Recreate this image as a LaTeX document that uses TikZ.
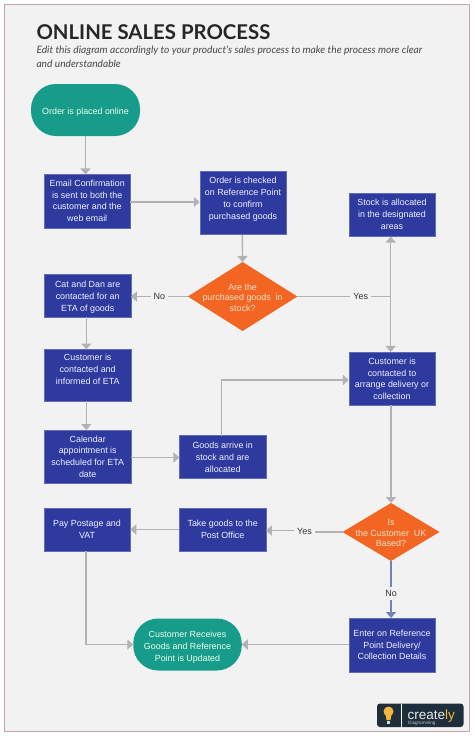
\documentclass[tikz,border=0pt]{standalone}
\usepackage{fontspec}
\setmainfont{Liberation Sans}
\newfontfamily\latofont{Lato}
\usetikzlibrary{arrows.meta,shapes.geometric}
\definecolor{pagebg}{HTML}{F2F2F3}
\definecolor{framecol}{HTML}{C9A3AB}
\definecolor{boxblue}{HTML}{2E3A9E}
\definecolor{tealfill}{HTML}{179C8C}
\definecolor{orangefill}{HTML}{F26522}
\definecolor{linegray}{HTML}{B2B2B4}
\definecolor{noblue}{HTML}{6D86B8}
\definecolor{logodark}{HTML}{1F2E3B}
\definecolor{logoyellow}{HTML}{F4B63F}
% text lowered by #1 px from the centre of its node
\newcommand\nudged[2]{\raisebox{\dimexpr-2.2pt-#1pt\relax}[0pt][0pt]{\begin{tabular}[c]{@{}c@{}}#2\end{tabular}}}
\tikzset{
  x=1pt,y=-1pt,
  base/.style={inner sep=0pt,outer sep=0pt,font=\fontsize{8.9}{11.85}\selectfont},
  procbox/.style={base,fill=boxblue,draw=boxblue!75!white,line width=0.5pt,text=blue!6!white},
  terminal/.style={base,fill=tealfill,rounded corners=25pt,text=green!8!white},
  decision/.style={shape=diamond,inner sep=0pt,outer sep=0pt,fill=orangefill},
  dectext/.style={inner sep=0pt,outer sep=0pt,align=center,font=\fontsize{8.9}{10.6}\selectfont,text=orange!22!white},
  flow/.style={draw=linegray,line width=1.4pt},
  flowarrow/.style={flow,-{Triangle[width=10pt,length=6pt]}},
  lab/.style={inner sep=3pt,outer sep=0pt,text=black!80,font=\fontsize{9}{11}\selectfont},
}
\begin{document}
\begin{tikzpicture}
\useasboundingbox (0,0) rectangle (474,736);
\fill[white] (0,0) rectangle (474,736);
\draw[fill=pagebg,draw=framecol,line width=1pt] (4,4) rectangle (469.5,731);

\node[anchor=base west,inner sep=0pt,text=black!85] (title) at (36.3,39) {\latofont\bfseries\fontsize{20.35}{24}\selectfont ONLINE SALES PROCESS};
\node[anchor=north west,inner sep=0pt,text=black!72,align=left,font=\latofont\itshape\fontsize{10.2}{13.3}\selectfont] (sub) at (36.3,46) {Edit this diagram accordingly to your product's sales process to make the process more clear\\and understandable};

\node[terminal,minimum width=109pt,minimum height=52pt] (start) at (85.5,110) {\nudged{2}{Order is placed online}};
\node[procbox,minimum width=86.5pt,minimum height=53.5pt] (email) at (87.2,201.2) {\nudged{0.5}{Email Confirmation\\is sent to both the\\customer and the\\web email}};
\node[procbox,minimum width=86.5pt,minimum height=63pt] (order) at (243,203.2) {\nudged{-4}{Order is checked\\on Reference Point\\to confirm\\purchased goods}};
\node[procbox,minimum width=86.5pt,minimum height=43pt] (stock) at (392,215) {\nudged{0.5}{Stock is allocated\\in the designated\\areas}};
\node[procbox,minimum width=86.5pt,minimum height=43pt] (cat) at (87.7,295.5) {\nudged{1.5}{Cat and Dan are\\contacted for an\\ETA of goods}};
\node[procbox,minimum width=86.5pt,minimum height=51.5pt] (informed) at (87.7,375.2) {\nudged{-5}{Customer is\\contacted and\\informed of ETA}};
\node[procbox,minimum width=86.5pt,minimum height=53pt] (calendar) at (87.7,456.5) {\nudged{1}{Calendar\\appointment is\\scheduled for ETA\\date}};
\node[procbox,minimum width=86.5pt,minimum height=43pt] (goods) at (222.7,457) {\nudged{1.3}{Goods arrive in\\stock and are\\allocated}};
\node[procbox,minimum width=86.5pt,minimum height=53.5pt] (arrange) at (392,378.7) {\nudged{1}{Customer is\\contacted to\\arrange delivery or\\collection}};
\node[procbox,minimum width=86.5pt,minimum height=43pt] (pay) at (87,529.5) {\nudged{1}{Pay Postage and\\VAT}};
\node[procbox,minimum width=86.5pt,minimum height=43pt] (take) at (222.7,529.5) {\nudged{1}{Take goods to the\\Post Office}};
\node[procbox,minimum width=86.5pt,minimum height=54pt] (enter) at (392,645) {\nudged{0.7}{Enter on Reference\\Point Delivery/\\Collection Details}};
\node[terminal,minimum width=108.5pt,minimum height=52pt] (finish) at (187.5,644.5) {\nudged{2.5}{Customer Receives\\Goods and Reference\\Point is Updated}};

\node[decision,minimum width=109.5pt,minimum height=69pt,aspect=1.587] (d1) at (242.6,296.5) {};
\node[dectext] (d1text) at (242.6,297.5) {Are the\\purchased goods\ \ in\\stock?};
\node[decision,minimum width=97pt,minimum height=58pt,aspect=1.672] (d2) at (391,532) {};
\node[dectext] (d2text) at (391,533) {Is\\the Customer\ \ UK\\Based?};

\node[lab] (no1) at (159.5,296) {No};
\node[lab] (yes1) at (360.7,296) {Yes};
\node[lab] (yes2) at (304.5,531) {Yes};
\node[lab] (no2) at (391,593.5) {No};
\coordinate (junction) at (390.7,296.5);
\coordinate (goodsup) at (221.5,435.5);
\coordinate (arrangein) at (348.8,380);
\coordinate (payout) at (86,551);
\coordinate (orderout) at (242.3,235);
\coordinate (catout) at (86.3,317);
\coordinate (informedin) at (86.3,349.5);
\coordinate (informedout) at (86.3,401);
\coordinate (calendarin) at (86.3,430);

\draw[flowarrow] (start.south) -- (start.south |- email.north);
\draw[flowarrow] (email.east |- 0,202) -- (order.west |- 0,202);
\draw[flowarrow] (orderout) -- (d1.north);
\draw[flow] (d1.west) -- (d1.west -| no1.east);
\draw[flowarrow] (no1.west |- d1.west) -- (cat.east |- d1.west);
\draw[flow] (d1.east) -- (d1.east -| yes1.west);
\draw[flow] (yes1.east |- d1.east) -- (junction);
\draw[flowarrow] (junction) -- (junction |- stock.south);
\draw[flowarrow] (junction) -- (junction |- arrange.north);
\draw[flowarrow] (catout) -- (informedin);
\draw[flowarrow] (informedout) -- (calendarin);
\draw[flowarrow] (calendar.east |- 0,457.5) -- (goods.west |- 0,457.5);
\draw[flowarrow] (goodsup) -- (goodsup |- arrangein) -- (arrangein);
\draw[flowarrow] (d2.north |- arrange.south) -- (d2.north);
\draw[flow] (d2.west) -- (d2.west -| yes2.east);
\draw[flowarrow] (yes2.west |- 0,530.5) -- (take.east |- 0,530.5);
\draw[flowarrow] (take.west) -- (pay.east);
\draw[flowarrow] (payout) -- (payout |- finish.west) -- (finish.west);
\draw[flowarrow] (enter.west |- finish.east) -- (finish.east);
\draw[flow,draw=noblue] (d2.south) -- (no2.north);
\draw[flowarrow,draw=noblue] (no2.south) -- (no2.south |- enter.north);

% logo
\fill[logodark,rounded corners=3pt] (377,703.5) rectangle (463.5,727);
\draw[white,line width=0.6pt] (401,703.5) -- (401,727);
\fill[logoyellow] (388.5,711.5) circle (5pt);
\fill[logoyellow] (385.5,714) -- (391.5,714) -- (390.5,720) -- (386.5,720) -- cycle;
\fill[white!85!black] (386.7,720.5) rectangle (390.3,723.5);
\node[anchor=base west,inner sep=0pt,text=white!85!gray,font=\fontsize{13.5}{14}\selectfont] (logotext) at (407.5,719) {create\textcolor{logoyellow}{ly}};
\node[anchor=base west,inner sep=0pt,text=white!55!gray,font=\fontsize{4.6}{5}\selectfont] (logosub) at (408,724.8) {Diagramming};
\end{tikzpicture}
\end{document}
